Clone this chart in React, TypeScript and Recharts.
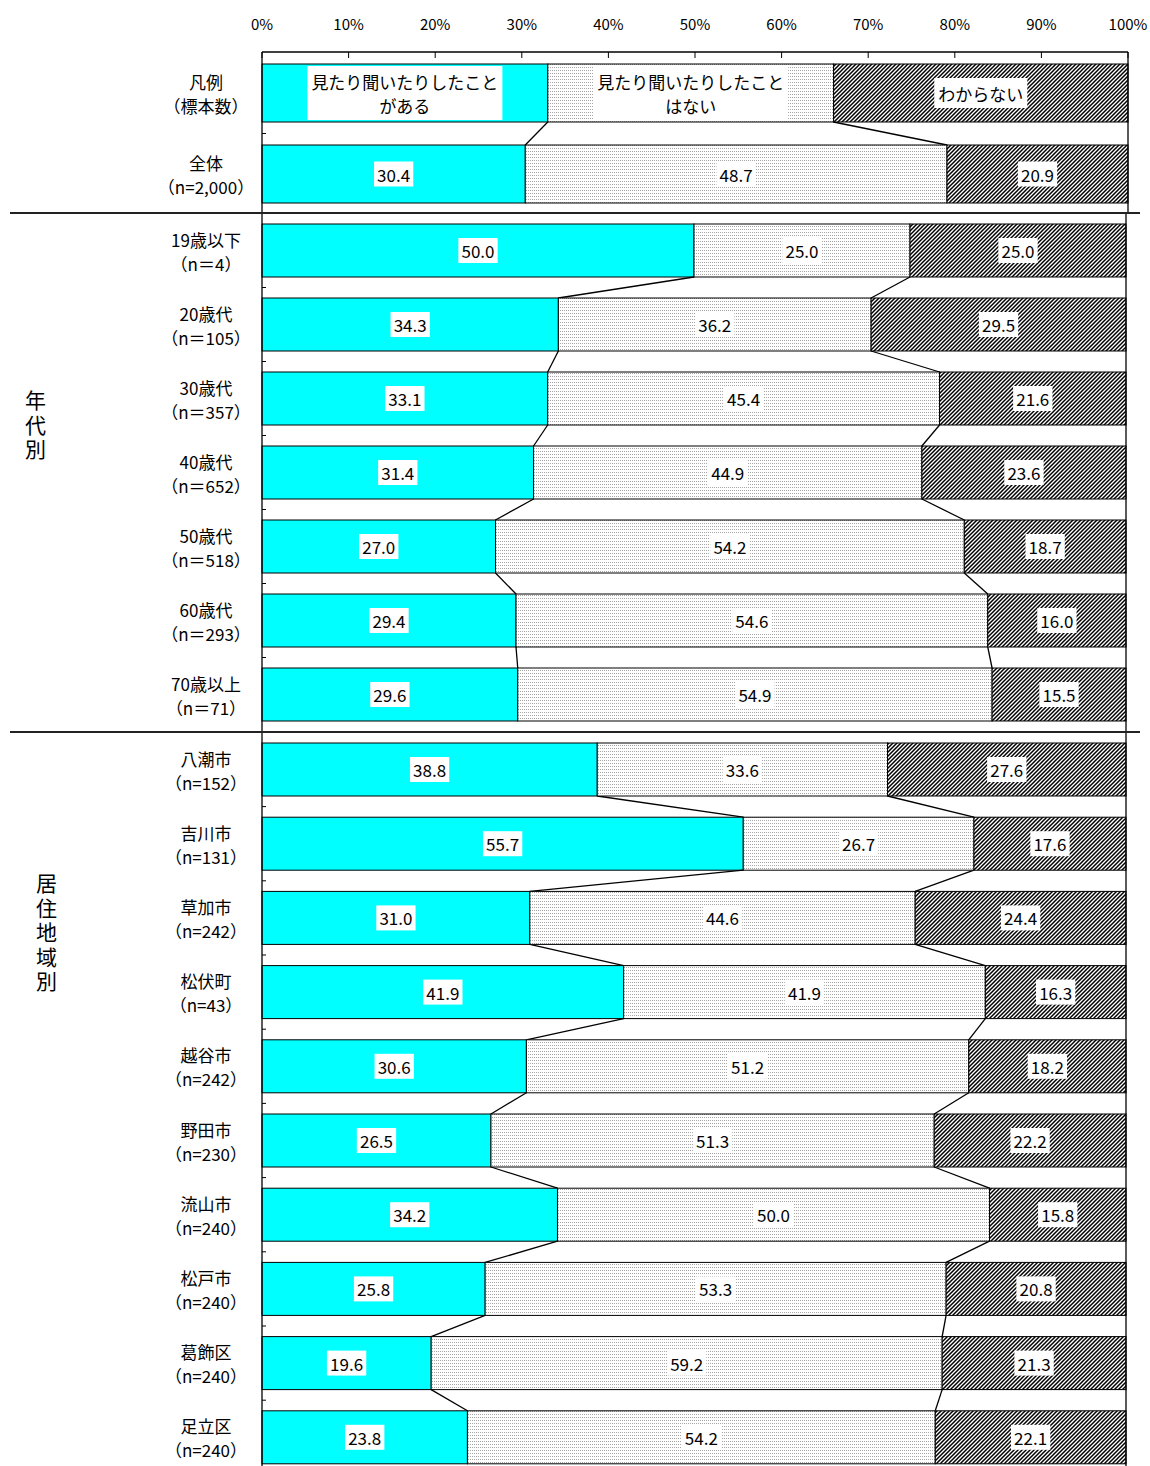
import { BarChart, Bar, XAxis, YAxis, ReferenceLine } from "recharts";

const FONT = "'Noto Sans CJK JP', 'Noto Sans', sans-serif";

// 凡例行 + 全体
const topNames = ["凡例", "全体"];
const topSizes = ["（標本数）", "（n=2,000）"];
const topHeard = [33, 30.4];
const topNotHeard = [33, 48.7];
const topUnknown = [34, 20.9];

const legendLabels = [
  ["見たり聞いたりしたこと", "がある"],
  ["見たり聞いたりしたこと", "はない"],
  ["わからない"],
];

// 年代別
const ageNames = ["19歳以下", "20歳代", "30歳代", "40歳代", "50歳代", "60歳代", "70歳以上"];
const ageSizes = ["（n＝4）", "（n＝105）", "（n＝357）", "（n＝652）", "（n＝518）", "（n＝293）", "（n＝71）"];
const ageHeard = [50.0, 34.3, 33.1, 31.4, 27.0, 29.4, 29.6];
const ageNotHeard = [25.0, 36.2, 45.4, 44.9, 54.2, 54.6, 54.9];
const ageUnknown = [25.0, 29.5, 21.6, 23.6, 18.7, 16.0, 15.5];

// 居住地域別
const regionNames = ["八潮市", "吉川市", "草加市", "松伏町", "越谷市", "野田市", "流山市", "松戸市", "葛飾区", "足立区"];
const regionSizes = ["（n=152）", "（n=131）", "（n=242）", "（n=43）", "（n=242）", "（n=230）", "（n=240）", "（n=240）", "（n=240）", "（n=240）"];
const regionHeard = [38.8, 55.7, 31.0, 41.9, 30.6, 26.5, 34.2, 25.8, 19.6, 23.8];
const regionNotHeard = [33.6, 26.7, 44.6, 41.9, 51.2, 51.3, 50.0, 53.3, 59.2, 54.2];
const regionUnknown = [27.6, 17.6, 24.4, 16.3, 18.2, 22.2, 15.8, 20.8, 21.3, 22.1];

const xTicks = [0, 0.1, 0.2, 0.3, 0.4, 0.5, 0.6, 0.7, 0.8, 0.9, 1];

interface Row {
  name: string;
  size: string;
  heard: number;
  notHeard: number;
  unknown: number;
  legend?: boolean;
}

const buildRows = (names: string[], sizes: string[], a: number[], b: number[], c: number[], legendFirst = false): Row[] =>
  names.map((name, i) => ({
    name,
    size: sizes[i],
    heard: a[i],
    notHeard: b[i],
    unknown: c[i],
    legend: legendFirst && i === 0,
  }));

const topRows = buildRows(topNames, topSizes, topHeard, topNotHeard, topUnknown, true);
const ageRows = buildRows(ageNames, ageSizes, ageHeard, ageNotHeard, ageUnknown);
const regionRows = buildRows(regionNames, regionSizes, regionHeard, regionNotHeard, regionUnknown);

const SERIES = [
  { key: "heard", fill: "#00FFFF" },
  { key: "notHeard", fill: "url(#dots)" },
  { key: "unknown", fill: "url(#hatch)" },
] as const;

const total = (r: Row) => r.heard + r.notHeard + r.unknown;

const textWidth = (s: string, fs: number) =>
  [...s].reduce((w, ch) => {
    if (/[0-9]/.test(ch)) return w + fs * 0.56;
    if (ch === ".") return w + fs * 0.28;
    return w + fs;
  }, 0);

const AXIS_Y = 52;
const LABEL_X = 206;

const makeShape = (rows: Row[], seriesIdx: number, step: number) => (props: any) => {
  const { x, y, width, height, payload } = props;
  const i = typeof props.index === "number" ? props.index : rows.findIndex((r) => r.name === payload.name);
  const row = rows[i];
  const s = SERIES[seriesIdx];
  const cx = x + width / 2;
  const cy = y + height / 2;
  const extras: any[] = [];

  if (seriesIdx === 0) {
    // series lines to the next bar and the small tick between categories
    if (i < rows.length - 1) {
      const W = (width * total(row)) / row.heard;
      const next = rows[i + 1];
      const endsNow = [row.heard / total(row), (row.heard + row.notHeard) / total(row)];
      const endsNext = [next.heard / total(next), (next.heard + next.notHeard) / total(next)];
      endsNow.forEach((e, k) => {
        extras.push(
          <line key={`sl${k}`} x1={x + W * e} y1={y + height} x2={x + W * endsNext[k]} y2={y + step}
            stroke="#000" strokeWidth={1.3} />
        );
      });
      const yb = cy + step / 2;
      extras.push(<line key="tk" x1={x} x2={x + 4} y1={yb} y2={yb} stroke="#000" strokeWidth={1} />);
    }
  }

  let label: any = null;
  if (row.legend) {
    const lines = legendLabels[seriesIdx];
    const fs = 17;
    const bw = Math.max(...lines.map((l) => textWidth(l, fs))) + 8;
    const bh = lines.length * 24 + 6;
    label = (
      <g>
        <rect x={cx - bw / 2} y={cy - bh / 2} width={bw} height={bh} fill="#fff" />
        {lines.map((l, j) => (
          <text key={j} x={cx} y={cy + (j - (lines.length - 1) / 2) * 24} textAnchor="middle"
            dominantBaseline="central" fontSize={fs} fontFamily={FONT} fill="#000">{l}</text>
        ))}
      </g>
    );
  } else {
    const v = (row as any)[s.key] as number;
    const str = v.toFixed(1);
    const fs = 17;
    const bw = textWidth(str, fs) + 6;
    label = (
      <g>
        <rect x={cx - bw / 2} y={cy - 12.5} width={bw} height={25} fill="#fff" />
        <text x={cx} y={cy} textAnchor="middle" dominantBaseline="central" fontSize={fs}
          fontFamily={FONT} fill="#000">{str}</text>
      </g>
    );
  }

  return (
    <g>
      <rect x={x} y={y} width={width} height={height} fill={s.fill} stroke="#000" strokeWidth={1} />
      {extras}
      {label}
    </g>
  );
};

const CategoryTick = (rows: Row[]) => (props: any) => {
  const { y, payload } = props;
  const row = rows.find((r) => r.name === payload.value);
  return (
    <g>
      <text x={LABEL_X} y={y - 11} textAnchor="middle" dominantBaseline="central" fontSize={17}
        fontFamily={FONT} fill="#000">{payload.value}</text>
      <text x={LABEL_X} y={y + 13} textAnchor="middle" dominantBaseline="central" fontSize={17}
        fontFamily={FONT} fill="#000">{row ? row.size : ""}</text>
    </g>
  );
};

const PercentTick = (props: any) => {
  const { x, payload } = props;
  return (
    <g>
      <text x={x} y={30} textAnchor="middle" fontSize={15} fontFamily={FONT} fill="#000">
        {`${Math.round(payload.value * 100)}%`}
      </text>
      <line x1={x} x2={x} y1={AXIS_Y} y2={AXIS_Y + 6} stroke="#000" strokeWidth={1} />
    </g>
  );
};

interface PanelProps {
  rows: Row[];
  top: number;
  plotHeight: number;
  barSize: number;
  rightMargin: number;
  withAxis?: boolean;
}

const Panel = ({ rows, top, plotHeight, barSize, rightMargin, withAxis = false }: PanelProps) => {
  const step = plotHeight / rows.length;
  const axisH = 40;
  const mTop = withAxis ? AXIS_Y - axisH : 0;
  const height = plotHeight + (withAxis ? AXIS_Y : 0);
  return (
    <div style={{ position: "absolute", left: 0, top }}>
      <BarChart
        layout="vertical"
        width={1150}
        height={height}
        data={rows}
        stackOffset="expand"
        barSize={barSize}
        margin={{ top: mTop, right: rightMargin, bottom: 0, left: 0 }}
      >
        <XAxis
          type="number"
          orientation="top"
          domain={[0, 1]}
          ticks={xTicks}
          interval={0}
          hide={!withAxis}
          height={axisH}
          axisLine={{ stroke: "#000", strokeWidth: 1.3 }}
          tickLine={false}
          tick={<PercentTick />}
        />
        <YAxis
          type="category"
          dataKey="name"
          width={262}
          interval={0}
          axisLine={{ stroke: "#000", strokeWidth: 1.3 }}
          tickLine={false}
          tick={CategoryTick(rows)}
        />
        <ReferenceLine x={1} stroke="#000" strokeWidth={1.3} />
        {SERIES.map((s, k) => (
          <Bar key={s.key} dataKey={s.key} stackId="a" isAnimationActive={false} shape={makeShape(rows, k, step)} />
        ))}
      </BarChart>
    </div>
  );
};

const SectionLabel = ({ text, cx, top, size }: { text: string; cx: number; top: number; size: number }) => (
  <div
    style={{
      position: "absolute",
      left: cx - size / 2,
      top,
      writingMode: "vertical-rl",
      fontSize: size,
      letterSpacing: 24.5 - size,
      lineHeight: `${size}px`,
      fontFamily: FONT,
      color: "#000",
    }}
  >
    {text}
  </div>
);

export default function App() {
  const agePlot = 518;
  const regionPlot = 742;
  const ageTop = 213;
  const regionTop = ageTop + agePlot + 1;
  return (
    <div
      style={{
        position: "absolute",
        left: 0,
        top: 0,
        width: 1150,
        height: 1466,
        overflow: "hidden",
        background: "#fff",
        fontFamily: FONT,
      }}
    >
      <svg width={0} height={0} style={{ position: "absolute" }}>
        <defs>
          <pattern id="dots" patternUnits="userSpaceOnUse" width={2} height={3}>
            <rect width={2} height={3} fill="#fff" />
            <rect x={0} y={1} width={1} height={1} fill="#a6a6a6" />
          </pattern>
          <pattern id="hatch" patternUnits="userSpaceOnUse" width={4} height={4}>
            <rect width={4} height={4} fill="#fff" />
            <path d="M0,4 L4,0 M-1,1 L1,-1 M3,5 L5,3" stroke="#000" strokeWidth={1.5} />
          </pattern>
        </defs>
      </svg>

      <Panel rows={topRows} top={0} plotHeight={162} barSize={58} rightMargin={22} withAxis />
      <Panel rows={ageRows} top={ageTop} plotHeight={agePlot} barSize={53} rightMargin={24} />
      <Panel rows={regionRows} top={regionTop} plotHeight={regionPlot} barSize={53} rightMargin={24} />

      <div style={{ position: "absolute", left: 10, top: ageTop - 1, width: 1130, height: 2, background: "#222" }} />
      <div style={{ position: "absolute", left: 10, top: regionTop - 1, width: 1130, height: 2, background: "#222" }} />

      <SectionLabel text="年代別" cx={35} top={390} size={21} />
      <SectionLabel text="居住地域別" cx={46} top={873} size={21} />
    </div>
  );
}
